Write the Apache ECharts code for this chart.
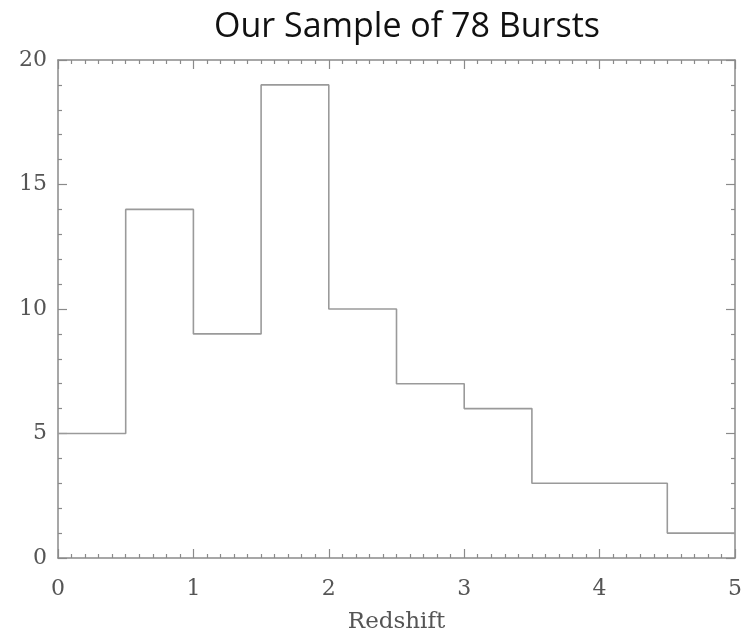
<!DOCTYPE html>
<html>
<head>
<meta charset="utf-8">
<style>
  html, body { margin: 0; padding: 0; background: #fff; }
  #chart { width: 744px; height: 638px; }
</style>
<script src="https://cdn.jsdelivr.net/npm/echarts@6/dist/echarts.min.js"></script>
</head>
<body>
<div id="chart"></div>
<script>
// Redshift histogram: bin edges (left edges) and burst counts per bin
const binStarts = [0, 0.5, 1, 1.5, 2, 2.5, 3, 3.5, 4, 4.5];
const binEnd = 5;
const counts = [5, 14, 9, 19, 10, 7, 6, 3, 3, 1];
const xTicks = [0, 1, 2, 3, 4, 5];
const yTicks = [0, 5, 10, 15, 20];

// Step outline: each bin holds its count until the next edge
const stepPoints = binStarts.map((x, i) => [x, counts[i]]);
stepPoints.push([binEnd, counts[counts.length - 1]]);

const axisColor = '#8a8a8a';
const labelColor = '#555';
const serif = '"DejaVu Serif", "Liberation Serif", serif';

function frameAxis(extra) {
  return Object.assign({
    axisLine: { show: true, onZero: false, lineStyle: { color: axisColor, width: 1.5 } },
    axisTick: { show: true, inside: true, length: 9, lineStyle: { color: axisColor, width: 1.2 } },
    minorTick: { show: true, length: 4, lineStyle: { color: axisColor, width: 1.2 } },
    splitLine: { show: false },
    minorSplitLine: { show: false }
  }, extra);
}

const chart = echarts.init(document.getElementById('chart'));
chart.setOption({
  animation: false,
  backgroundColor: '#fff',
  title: {
    text: 'Our Sample of 78 Bursts',
    left: 402,
    textAlign: 'center',
    top: 5,
    textStyle: { fontFamily: '"Open Sans", "Noto Sans", sans-serif', fontWeight: 'normal', fontSize: 34, color: '#111' }
  },
  grid: { left: 58, right: 9, top: 60, bottom: 80, containLabel: false, outerBoundsMode: 'none' },
  xAxis: [
    frameAxis({
      type: 'value', min: xTicks[0], max: xTicks[xTicks.length - 1], interval: 1,
      position: 'bottom',
      minorTick: { show: true, splitNumber: 10, length: 4, lineStyle: { color: axisColor, width: 1.2 } },
      axisLabel: { show: true, margin: 20, color: labelColor, fontFamily: serif, fontSize: 22 },
      name: 'Redshift', nameLocation: 'middle', nameGap: 53,
      nameTextStyle: { color: labelColor, fontFamily: serif, fontSize: 23 }
    }),
    frameAxis({
      type: 'value', min: xTicks[0], max: xTicks[xTicks.length - 1], interval: 1,
      position: 'top',
      minorTick: { show: true, splitNumber: 10, length: 4, lineStyle: { color: axisColor, width: 1.2 } },
      axisLabel: { show: false }
    })
  ],
  yAxis: [
    frameAxis({
      type: 'value', min: yTicks[0], max: yTicks[yTicks.length - 1], interval: 5,
      position: 'left',
      minorTick: { show: true, splitNumber: 5, length: 4, lineStyle: { color: axisColor, width: 1.2 } },
      axisLabel: { show: true, margin: 11, color: labelColor, fontFamily: serif, fontSize: 22 }
    }),
    frameAxis({
      type: 'value', min: yTicks[0], max: yTicks[yTicks.length - 1], interval: 5,
      position: 'right',
      minorTick: { show: true, splitNumber: 5, length: 4, lineStyle: { color: axisColor, width: 1.2 } },
      axisLabel: { show: false }
    })
  ],
  series: [{
    type: 'line',
    xAxisIndex: 0,
    yAxisIndex: 0,
    step: 'end',
    data: stepPoints,
    symbol: 'none',
    lineStyle: { color: '#9a9a9a', width: 1.6 },
    silent: true
  }]
});
</script>
</body>
</html>
